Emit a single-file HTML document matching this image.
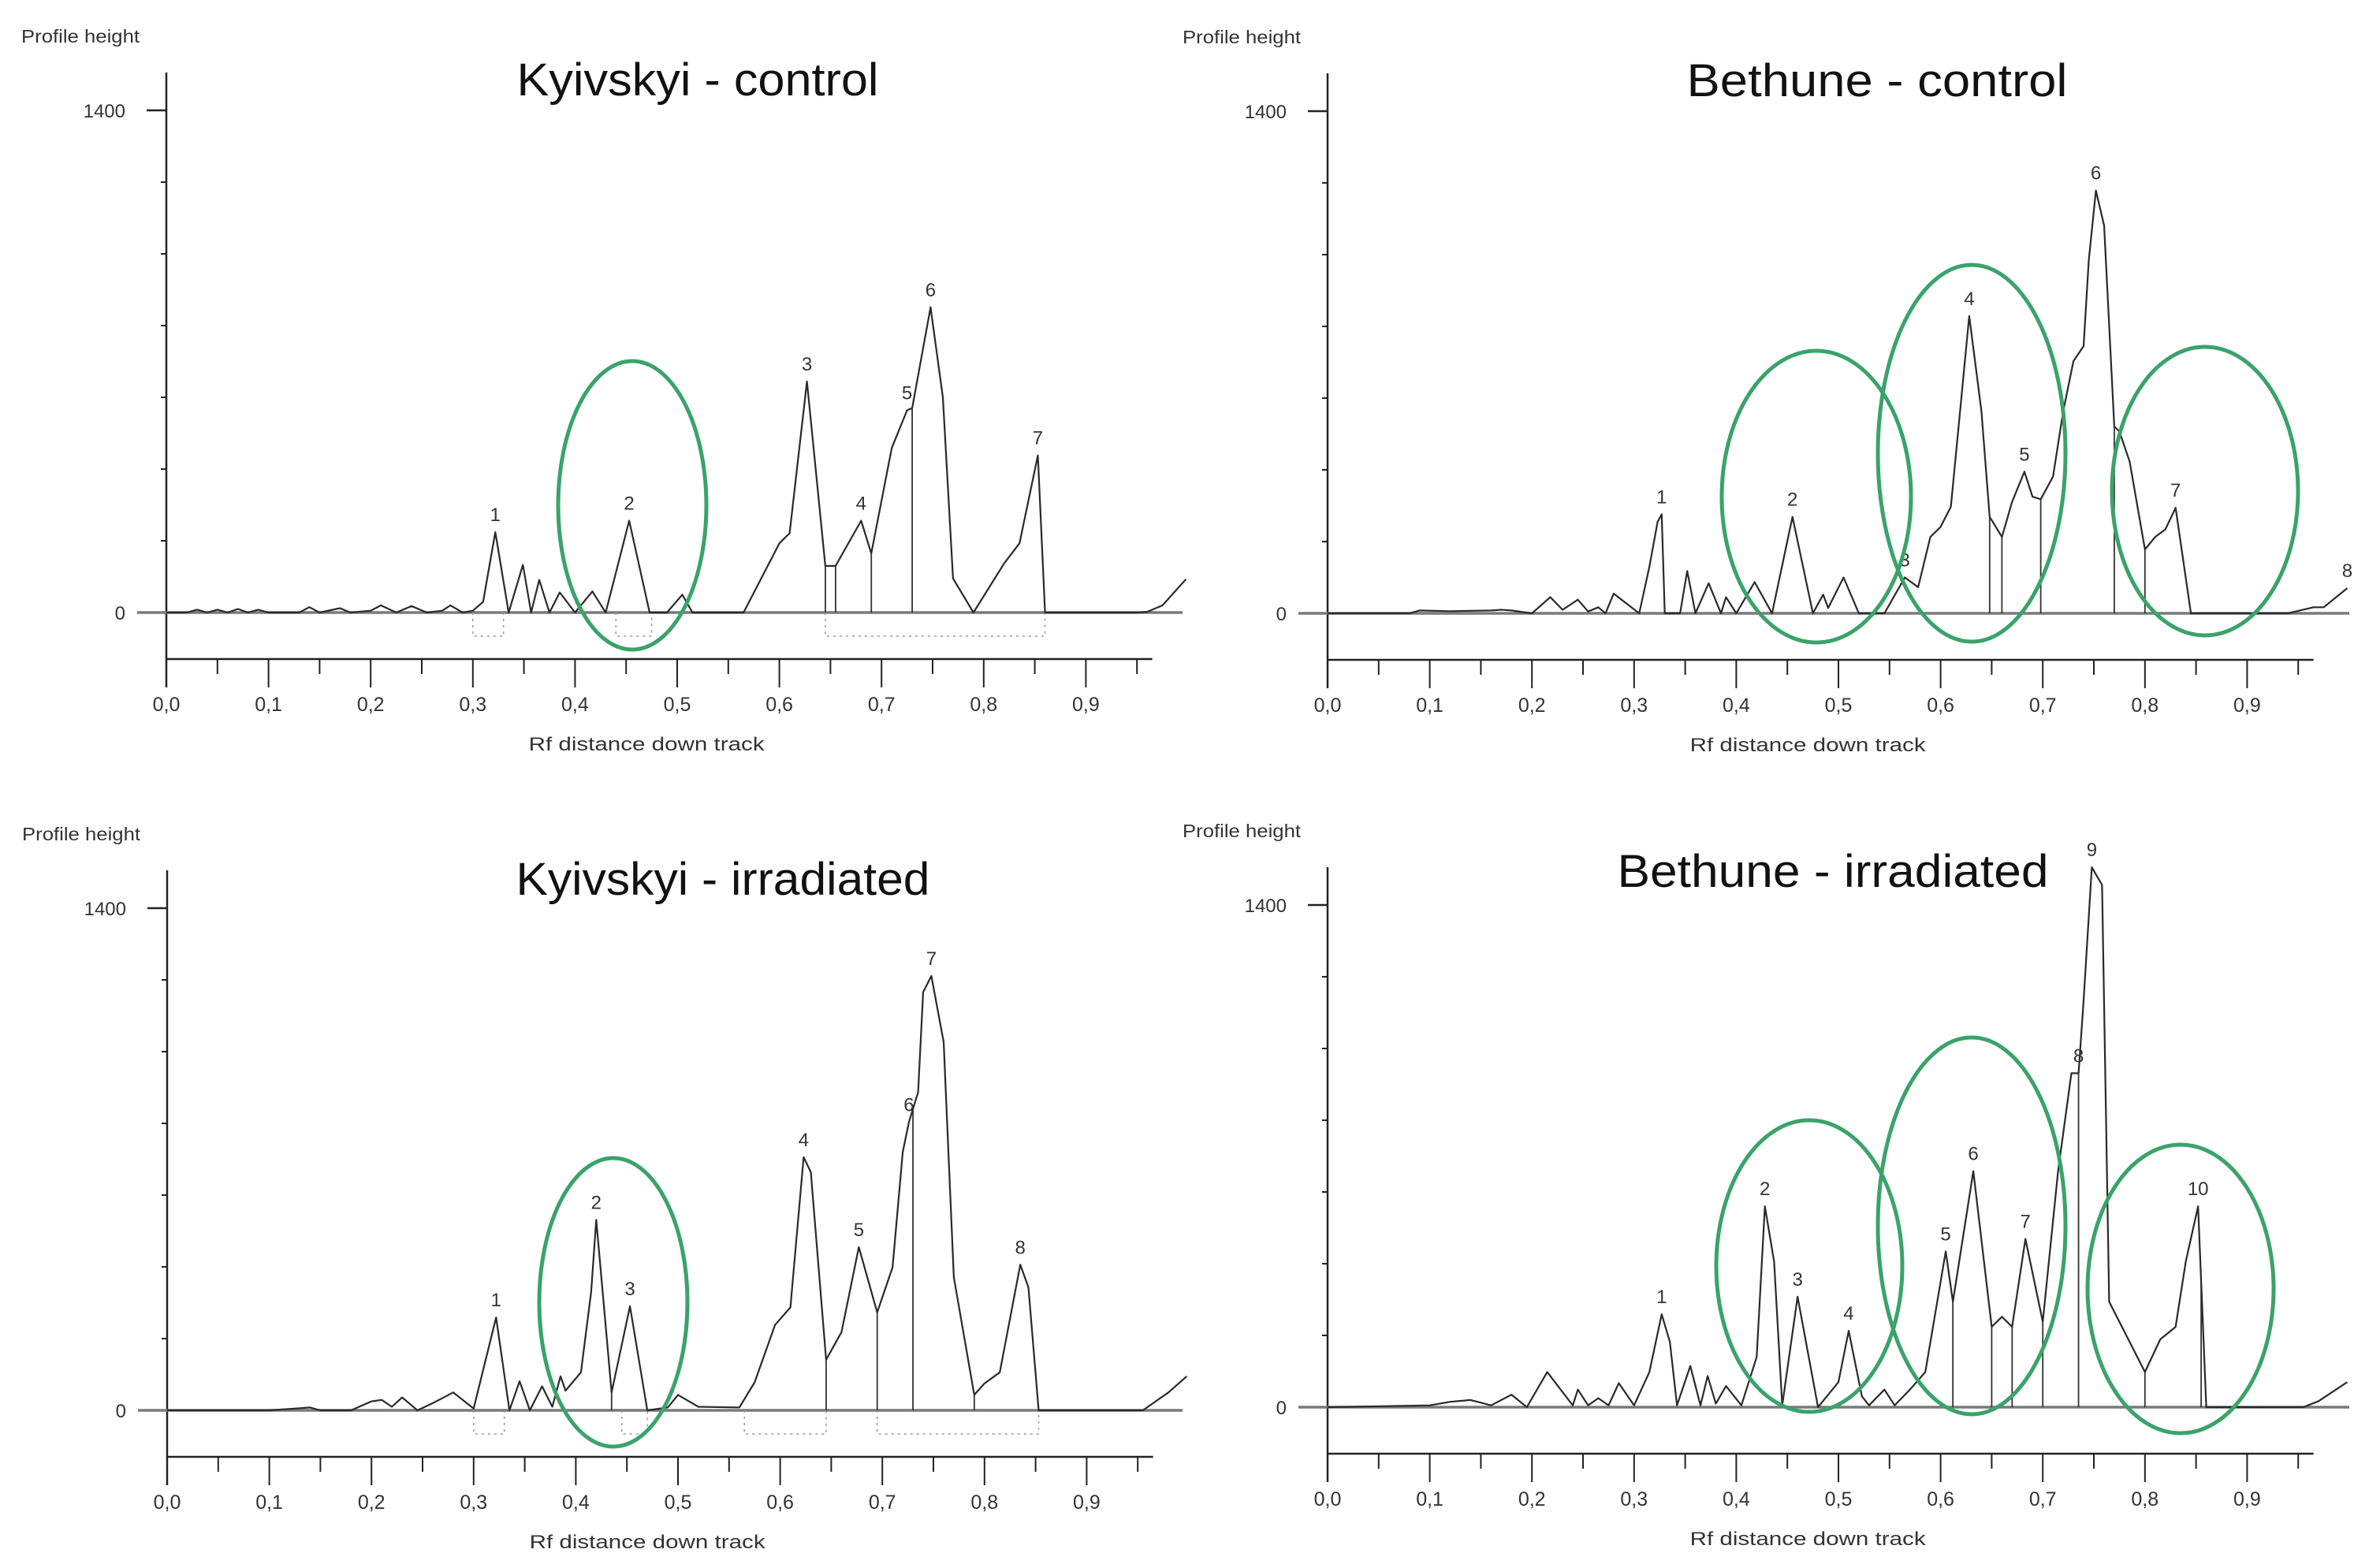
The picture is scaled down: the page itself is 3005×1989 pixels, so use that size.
<!DOCTYPE html>
<html><head><meta charset="utf-8"><style>
html,body{margin:0;padding:0;background:#fff;}
svg{display:block;}
text{font-family:"Liberation Sans",sans-serif;fill:#333;}
</style></head><body>
<svg id="chart" width="3005" height="1989" viewBox="0 0 3005 1989" xmlns="http://www.w3.org/2000/svg"></svg>
<script>
// ---- data (Rf position, profile height) ----
const klcRf  = [0,0.02,0.03,0.04,0.05,0.06,0.07,0.08,0.09,0.1,0.13,0.14,0.15,0.17,0.18,0.2,0.21,0.225,0.24,0.255,0.27,0.278,0.29,0.3,0.31,0.322,0.335,0.349,0.357,0.365,0.375,0.385,0.4,0.417,0.43,0.453,0.473,0.49,0.505,0.515,0.565,0.6,0.61,0.627,0.645,0.655,0.68,0.69,0.71,0.725,0.73,0.748,0.76,0.77,0.79,0.82,0.835,0.853,0.86,0.95,0.96,0.975,0.998];
const klcVal = [0,0,8,0,8,0,10,0,8,0,0,15,0,12,0,5,20,0,18,0,5,20,0,5,30,224,0,133,0,91,0,56,0,59,0,256,0,0,50,0,0,193,221,644,130,130,256,165,459,564,570,851,600,95,0,137,193,438,0,0,2,20,93];
const kicRf  = [0,0.05,0.1,0.14,0.15,0.18,0.2,0.21,0.22,0.23,0.245,0.26,0.28,0.3,0.322,0.335,0.345,0.355,0.367,0.377,0.385,0.39,0.405,0.415,0.42,0.435,0.453,0.47,0.49,0.5,0.52,0.56,0.575,0.595,0.61,0.623,0.63,0.645,0.66,0.677,0.695,0.71,0.72,0.726,0.735,0.74,0.748,0.76,0.77,0.79,0.8,0.815,0.835,0.843,0.853,0.955,0.98,0.998];
const kicVal = [0,0,0,8,0,0,25,29,10,36,0,20,50,5,259,0,81,0,67,10,95,55,106,329,531,50,290,0,8,43,10,8,78,238,287,706,664,141,218,455,273,399,720,803,887,1166,1211,1027,371,43,75,106,406,343,0,0,50,95];
const bcRf   = [0,0.08,0.09,0.12,0.16,0.17,0.18,0.2,0.218,0.23,0.245,0.255,0.265,0.272,0.28,0.305,0.315,0.323,0.327,0.33,0.345,0.352,0.36,0.373,0.385,0.39,0.40,0.418,0.435,0.455,0.475,0.485,0.49,0.505,0.52,0.545,0.565,0.578,0.59,0.6,0.61,0.62,0.628,0.64,0.648,0.66,0.67,0.682,0.69,0.698,0.71,0.72,0.73,0.74,0.745,0.752,0.76,0.77,0.775,0.785,0.8,0.81,0.82,0.83,0.845,0.94,0.965,0.975,0.998];
const bcVal  = [0,0,8,6,8,10,8,0,45,10,38,5,17,0,55,0,130,255,276,0,0,118,0,84,0,45,0,87,0,269,0,52,15,100,0,0,100,73,213,241,297,591,829,563,269,213,311,395,325,318,381,563,703,745,983,1179,1081,521,507,423,178,213,234,294,0,0,17,17,70];
const biRf   = [0,0.1,0.12,0.14,0.16,0.18,0.195,0.215,0.24,0.245,0.255,0.265,0.275,0.285,0.3,0.315,0.327,0.335,0.342,0.355,0.365,0.372,0.38,0.39,0.405,0.42,0.428,0.437,0.445,0.46,0.48,0.5,0.51,0.523,0.53,0.545,0.555,0.57,0.585,0.605,0.612,0.632,0.65,0.66,0.67,0.683,0.7,0.715,0.728,0.735,0.74,0.748,0.758,0.765,0.775,0.8,0.815,0.83,0.84,0.852,0.86,0.955,0.97,0.998];
const biVal  = [0,5,15,20,5,35,0,98,5,49,5,25,5,67,5,98,259,182,5,115,5,87,10,59,5,140,560,406,5,308,0,70,213,30,5,49,5,49,98,434,294,658,224,252,224,469,238,658,931,931,1134,1505,1456,294,238,98,189,224,406,560,0,0,17,70];
// peak labels
const klcPeakRf = [0.322,0.453,0.627,0.68,0.725,0.748,0.853];
const klcPeakTx = ["1","2","3","4","5","6","7"];
const kicPeakRf = [0.322,0.42,0.453,0.623,0.677,0.726,0.748,0.835];
const kicPeakTx = ["1","2","3","4","5","6","7","8"];
const bcPeakRf  = [0.327,0.455,0.565,0.628,0.682,0.752,0.83,0.998];
const bcPeakTx  = ["1","2","3","4","5","6","7","8"];
const biPeakRf  = [0.327,0.428,0.46,0.51,0.605,0.632,0.683,0.735,0.748,0.852];
const biPeakTx  = ["1","2","3","4","5","6","7","8","9","10"];
// vertical drop lines
const klcDrop = [0.645,0.655,0.69,0.73,0.86];
const kicDrop = [0.435,0.645,0.695,0.73,0.79,0.853];
const bcDrop  = [0.33,0.648,0.66,0.698,0.77,0.8];
const biDrop  = [0.612,0.65,0.67,0.7,0.735,0.8,0.855];
// dotted integration segments below baseline [start, end]
const klcDots = [[0.3,0.33],[0.44,0.475],[0.645,0.86]];
const kicDots = [[0.3,0.33],[0.445,0.47],[0.565,0.645],[0.695,0.853]];
const bcDots  = [];
const biDots  = [];
const xTicks = ["0,0","0,1","0,2","0,3","0,4","0,5","0,6","0,7","0,8","0,9"];

const NS="http://www.w3.org/2000/svg";
const svg=document.getElementById('chart');
function mk(tag,attrs,parent){const e=document.createElementNS(NS,tag);for(const k in attrs)e.setAttribute(k,attrs[k]);(parent||svg).appendChild(e);return e;}

const panels=[
 {key:'kyivskyi-control',ox:211,zy:777,title:"Kyivskyi - control",tx:885,ty:101,tw:459,rf:klcRf,val:klcVal,prf:klcPeakRf,ptx:klcPeakTx,drop:klcDrop,dots:klcDots,ell:[[802,641,94,183]],edge:1500},
 {key:'bethune-control',ox:1684,zy:778,title:"Bethune - control",tx:2381,ty:102,tw:483,rf:bcRf,val:bcVal,prf:bcPeakRf,ptx:bcPeakTx,drop:bcDrop,dots:bcDots,ell:[[2304,630,120,185],[2501,575,119,239],[2797,623,118,183]],edge:2985},
 {key:'kyivskyi-irradiated',ox:212,zy:1789,title:"Kyivskyi - irradiated",tx:917,ty:1115,tw:525,rf:kicRf,val:kicVal,prf:kicPeakRf,ptx:kicPeakTx,drop:kicDrop,dots:kicDots,ell:[[778,1652,94,183]],edge:1500},
 {key:'bethune-irradiated',ox:1684,zy:1785,title:"Bethune - irradiated",tx:2325,ty:1105,tw:547,rf:biRf,val:biVal,prf:biPeakRf,ptx:biPeakTx,drop:biDrop,dots:biDots,ell:[[2295,1606,118,185],[2501,1555,119,239],[2766,1635,118,183]],edge:2985}
];
const XS=1296, YS=637/1400;

panels.forEach(p=>{
  const g=mk('g',{});
  
  
  const X=r=>p.ox+r*XS, Y=v=>p.zy-v*YS;
  const interp=r=>{for(let i=1;i<p.rf.length;i++){if(p.rf[i]>=r){const t=(r-p.rf[i-1])/(p.rf[i]-p.rf[i-1]||1);return p.val[i-1]+t*(p.val[i]-p.val[i-1]);}}return 0;};
  const yl=mk('text',{x:p.ox-184,y:p.zy-723,'font-size':23,textLength:150,lengthAdjust:'spacingAndGlyphs'},g);
  yl.textContent='Profile height';
  
  
  const t=mk('text',{x:p.tx,y:p.ty+20,'font-size':58,'text-anchor':'middle',textLength:p.tw,lengthAdjust:'spacingAndGlyphs',style:'fill:#111'},g);
  t.textContent=p.title;
  
  
  mk('line',{x1:p.ox,y1:p.zy-685,x2:p.ox,y2:p.zy+95,stroke:'#222','stroke-width':2.5},g);
  for(let v=0;v<=1400;v+=200){
    const yy=Y(v);
    if(v===1400) mk('line',{x1:p.ox-25,y1:yy,x2:p.ox,y2:yy,stroke:'#222','stroke-width':2.5},g);
    else if(v>0) mk('line',{x1:p.ox-7,y1:yy,x2:p.ox,y2:yy,stroke:'#222','stroke-width':2},g);
  }
  const l14=mk('text',{x:p.ox-52,y:Y(1400)+9,'font-size':24,'text-anchor':'end'},g);
  l14.textContent='1400';
  
  
  const l0=mk('text',{x:p.ox-52,y:p.zy+9,'font-size':24,'text-anchor':'end'},g);
  l0.textContent='0';
  
  
  const ax=p.zy+59;
  mk('line',{x1:p.ox,y1:ax,x2:X(0.965),y2:ax,stroke:'#222','stroke-width':2.5},g);
  for(let i=0;i<=19;i++){
    const xx=X(i*0.05);
    mk('line',{x1:xx,y1:ax,x2:xx,y2:ax+(i%2===0?36:19),stroke:'#222','stroke-width':2},g);
  }
  xTicks.forEach((s,i)=>{
    const tl=mk('text',{x:X(i*0.1),y:ax+66,'font-size':25,'text-anchor':'middle'},g);
    tl.textContent=s;
    
    
  });
  const xt=mk('text',{x:X(0.47),y:ax+116,'font-size':24,'text-anchor':'middle',textLength:299,lengthAdjust:'spacingAndGlyphs'},g);
  xt.textContent='Rf distance down track';
  
  
  mk('line',{x1:p.ox-37,y1:p.zy,x2:Math.min(p.edge,X(1.0)),y2:p.zy,stroke:'#7a7a7a','stroke-width':3.5},g);
  p.dots.forEach(s=>{
    const dd=mk('path',{d:`M${X(s[0])},${p.zy}V${p.zy+30}H${X(s[1])}V${p.zy}`,fill:'none',stroke:'#999','stroke-width':1.5,'stroke-dasharray':'3,5'},g);
    
    
  });
  p.drop.forEach(r=>{
    const dl=mk('line',{x1:X(r),y1:p.zy,x2:X(r),y2:Y(interp(r)),stroke:'#333','stroke-width':1.8},g);
    
    
  });
  let d='';
  p.rf.forEach((r,i)=>{d+=(i?'L':'M')+X(r).toFixed(1)+','+Y(p.val[i]).toFixed(1);});
  const c=mk('path',{d:d,fill:'none',stroke:'#2a2a2a','stroke-width':2.2,'stroke-linejoin':'round'},g);
  
  
  p.prf.forEach((r,i)=>{
    let m=0;for(let j=0;j<p.rf.length;j++){if(Math.abs(p.rf[j]-r)<0.004)m=Math.max(m,p.val[j]);}
    if(!m)m=interp(r);
    const pl=mk('text',{x:X(r),y:Y(m)-14,'font-size':24,'text-anchor':'middle'},g);
    pl.textContent=p.ptx[i];
    
    
  });
  p.ell.forEach(e=>{
    const el=mk('ellipse',{cx:e[0],cy:e[1],rx:e[2],ry:e[3],fill:'none',stroke:'#3aa36a','stroke-width':5},g);
    
    
  });
});
</script>
</body></html>
